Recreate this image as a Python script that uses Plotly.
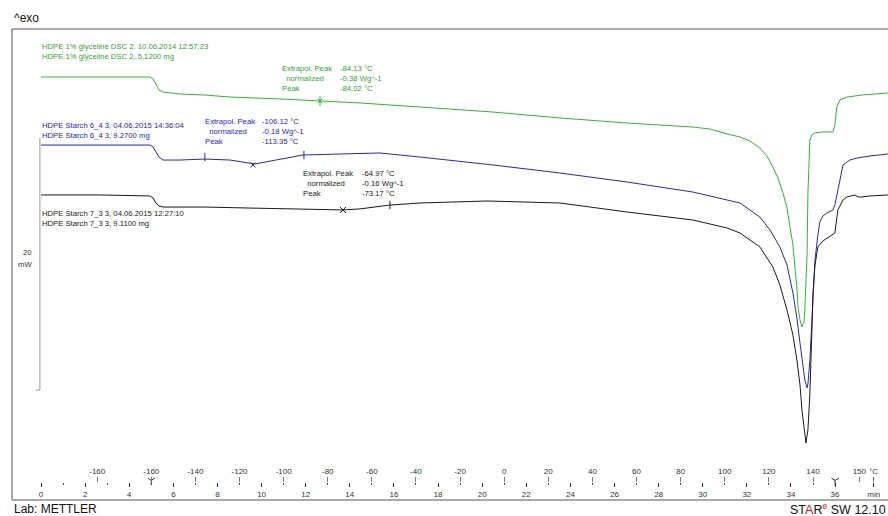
import plotly.graph_objects as go

# ---------------- data (time in min, heat flow in mW, display-offset) ----------------
time_green = [0, 2.67, 4.94, 5.08, 5.21, 5.35, 5.53, 6.30, 7.43, 8.57, 10.83, 12.65, 14.46, 17.18,
              20.49, 23.53, 26.56, 29.56, 30.33, 31.10, 31.69, 32.14, 32.59, 32.91, 33.18, 33.41,
              33.64, 33.82, 33.95, 34.09, 34.18, 34.27, 34.32, 34.41, 34.50, 34.59, 34.63, 34.68,
              34.73, 34.77, 34.81, 34.86, 34.95, 35.09, 35.45, 35.90, 35.99, 36.08, 36.22, 36.54,
              37.22, 38.40]
hf_green = [33.57, 33.57, 33.57, 33.41, 32.94, 32.54, 32.38, 32.22, 32.14, 31.98, 31.83, 31.67, 31.51,
            31.19, 30.79, 30.32, 29.92, 29.60, 29.44, 29.05, 28.81, 28.49, 27.94, 27.30, 26.43, 25.56,
            24.37, 23.17, 21.67, 20.24, 18.49, 16.90, 15.32, 14.29, 13.73, 14.13, 15.08, 17.06,
            19.44, 24.37, 26.98, 28.57, 28.97, 29.13, 29.21, 29.21, 29.76, 31.19, 31.75, 31.98,
            32.14, 32.30]

time_blue = [0, 2.67, 4.94, 5.08, 5.21, 5.35, 5.53, 6.30, 7.43, 8.57, 9.70, 10.83, 11.88, 13.55,
             15.37, 17.18, 20.49, 23.53, 26.56, 29.56, 31.10, 31.69, 32.59, 33.05, 33.50, 33.82,
             34.09, 34.27, 34.41, 34.54, 34.63, 34.73, 34.77, 34.86, 34.95, 35.00, 35.09, 35.22,
             35.31, 35.45, 35.63, 35.90, 35.99, 36.13, 36.36, 36.67, 36.99, 37.58, 38.40]
hf_blue = [28.17, 28.17, 28.17, 28.02, 27.62, 27.22, 26.98, 26.98, 27.06, 26.98, 26.67, 27.06, 27.38,
           27.46, 27.54, 27.22, 26.59, 25.95, 25.24, 24.44, 23.81, 23.57, 22.46, 21.43, 20.08, 18.65,
           16.43, 14.44, 12.46, 10.71, 9.52, 8.89, 9.21, 11.11, 14.29, 16.67, 19.05, 21.03,
           22.06, 22.54, 22.78, 23.02, 23.41, 24.60, 26.59, 26.98, 27.14, 27.30, 27.46]

time_black = [0, 2.67, 4.94, 5.08, 5.21, 5.35, 5.53, 7.43, 9.47, 11.74, 13.69, 14.46, 15.82, 17.18,
              20.22, 23.53, 26.56, 29.56, 31.10, 31.69, 32.59, 33.18, 33.50, 33.82, 34.09, 34.27,
              34.41, 34.50, 34.59, 34.68, 34.77, 34.86, 34.95, 35.00, 35.09, 35.22, 35.45, 35.63,
              35.99, 36.13, 36.36, 36.54, 36.90, 37.04, 37.22, 37.58, 38.40]
hf_black = [24.21, 24.21, 24.13, 23.97, 23.57, 23.33, 23.25, 23.25, 23.17, 23.10, 23.02, 23.10, 23.41,
            23.57, 23.73, 23.57, 22.86, 22.22, 21.59, 21.19, 20.08, 18.49, 17.06, 15.08, 13.10, 11.11,
            9.13, 7.14, 5.56, 4.52, 5.56, 8.49, 13.49, 16.43, 18.65, 20.08, 20.56, 20.79,
            21.19, 23.02, 23.81, 24.05, 24.21, 24.05, 24.05, 24.13, 24.21]

# evaluation limit markers (ticks) and peak markers (x)
green_lim_t, green_lim_v = [12.65], [31.67]
green_pk_t, green_pk_v = [12.65], [31.67]
blue_lim_t, blue_lim_v = [7.43, 11.92], [27.22, 27.38]
blue_pk_t, blue_pk_v = [9.61], [26.59]
black_lim_t, black_lim_v = [15.82], [23.41]
black_pk_t, black_pk_v = [13.69], [23.02]

# axis labels
time_ticks = [0, 2, 4, 6, 8, 10, 12, 14, 16, 18, 20, 22, 24, 26, 28, 30, 32, 34, 36, 37.75]
time_text = ["0", "2", "4", "6", "8", "10", "12", "14", "16", "18", "20", "22", "24", "26",
             "28", "30", "32", "34", "36", "min"]
temp_ticks = [2.55, 5.0, 7, 9, 11, 13, 15, 17, 19, 21, 23, 25, 27, 29, 31, 33, 35, 37.1, 37.75]
temp_text = ["-160", "-160", "-140", "-120", "-100", "-80", "-60", "-40", "-20", "0", "20", "40",
             "60", "80", "100", "120", "140", "150", "°C"]
segment_ends_t = [5.0, 36.0]

scale_bar_t = [-0.05, -0.05, -0.23]
scale_bar_v = [28.73, 8.73, 8.73]

GREEN = "#33b533"
GREEN_TXT = "#2ea82e"
BLUE = "#2626b8"
BLACK = "#1a1a1a"

fig = go.Figure()

def curve(t, v, color):
    fig.add_trace(go.Scatter(x=t, y=v, mode="lines", line=dict(color=color, width=1),
                             showlegend=False, hoverinfo="skip"))

def marks(t, v, color, symbol, size):
    fig.add_trace(go.Scatter(x=t, y=v, mode="markers",
                             marker=dict(symbol=symbol, size=size, color=color,
                                         line=dict(color=color, width=1)),
                             showlegend=False, hoverinfo="skip"))

curve(time_green, hf_green, GREEN)
curve(time_blue, hf_blue, BLUE)
curve(time_black, hf_black, BLACK)
marks(green_lim_t, green_lim_v, GREEN, "line-ns", 7)
marks(green_pk_t, green_pk_v, GREEN, "x-thin", 5)
marks(blue_lim_t, blue_lim_v, BLUE, "line-ns", 6)
marks(blue_pk_t, blue_pk_v, BLUE, "x-thin", 5)
marks(black_lim_t, black_lim_v, BLACK, "line-ns", 6)
marks(black_pk_t, black_pk_v, BLACK, "x-thin", 6)

fig.add_trace(go.Scatter(x=scale_bar_t, y=scale_bar_v, mode="lines",
                         line=dict(color="#9a9a9a", width=1), showlegend=False, hoverinfo="skip"))
fig.add_trace(go.Scatter(x=segment_ends_t, y=[1.55, 1.55], mode="markers",
                         marker=dict(symbol="y-down-open", size=6, color="#333",
                                     line=dict(color="#333", width=1)),
                         showlegend=False, hoverinfo="skip"))
# invisible trace on the top temperature axis so it renders
fig.add_trace(go.Scatter(x=[0], y=[0], xaxis="x2", mode="markers", marker=dict(opacity=0),
                         showlegend=False, hoverinfo="skip"))

FONT = "Liberation Sans, Arial"
SMALL = 7.7

def note(x, y, text, color, xanchor="left"):
    fig.add_annotation(x=x, y=y, xref="x", yref="y", text=text, showarrow=False,
                       xanchor=xanchor, yanchor="middle", align="left",
                       font=dict(family=FONT, size=SMALL, color=color))

note(-0.05, 35.56, "HDPE 1% glyceline DSC 2, 10.06.2014 12:57:23<br>HDPE 1% glyceline DSC 2, 5.1200 mg", GREEN_TXT)
note(10.83, 33.45, "Extrapol. Peak<br>&nbsp;&nbsp;normalized<br>Peak", GREEN_TXT)
note(13.46, 33.45, "-84.13 °C<br>-0.38 Wg^-1<br>-84.02 °C", GREEN_TXT)

note(-0.05, 29.33, "HDPE Starch 6_4 3, 04.06.2015 14:36:04<br>HDPE Starch 6_4 3, 9.2700 mg", BLUE)
note(7.34, 29.25, "Extrapol. Peak<br>&nbsp;&nbsp;normalized<br>Peak", BLUE)
note(9.93, 29.25, "-106.12 °C<br>-0.18 Wg^-1<br>-113.35 °C", BLUE)

note(11.79, 25.08, "Extrapol. Peak<br>&nbsp;&nbsp;normalized<br>Peak", BLACK)
note(14.46, 25.08, "-64.97 °C<br>-0.16 Wg^-1<br>-73.17 °C", BLACK)
note(-0.05, 22.34, "HDPE Starch 7_3 3, 04.06.2015 12:27:10<br>HDPE Starch 7_3 3, 9.1100 mg", BLACK)

note(-0.3, 19.68, "20", "#333", xanchor="right")
note(-0.3, 18.73, "mW", "#333", xanchor="right")

fig.add_annotation(x=0, y=1.024, xref="paper", yref="paper", text="^exo", showarrow=False,
                   xanchor="left", yanchor="middle",
                   font=dict(family="Liberation Sans, Arial", size=12, color="#111"))
fig.add_annotation(x=0, y=-0.019, xref="paper", yref="paper", text="Lab: METTLER", showarrow=False,
                   xanchor="left", yanchor="middle",
                   font=dict(family="Liberation Sans, Arial", size=12, color="#111"))
fig.add_annotation(x=1.0, y=-0.019, xref="paper", yref="paper",
                   text="ST<span style='color:#e01010'>A</span>R<sup><span style='color:#e01010'>e</span></sup> SW 12.10",
                   showarrow=False, xanchor="right", yanchor="middle",
                   font=dict(family="Liberation Sans, Arial", size=12.5, color="#111"))

fig.add_shape(type="rect", xref="paper", yref="paper", x0=0, y0=0, x1=1.01, y1=1,
              line=dict(color="#555", width=1), layer="below")

TICKFONT = dict(family=FONT, size=8, color="#333")
XR = [-1.315, 38.40]
fig.update_layout(
    width=888, height=516,
    margin=dict(l=12, r=0, t=29, b=16),
    paper_bgcolor="white", plot_bgcolor="white",
    showlegend=False,
    xaxis=dict(range=XR, anchor="free", position=0.038, side="bottom",
               tickmode="array", tickvals=time_ticks, ticktext=time_text,
               ticks="outside", ticklen=4, tickcolor="#333", tickwidth=1,
               minor=dict(tickvals=list(range(1, 36, 2)), ticks="outside", ticklen=2,
                          tickcolor="#555"),
               showgrid=False, zeroline=False, showline=False, tickfont=TICKFONT),
    xaxis2=dict(range=XR, overlaying="x", anchor="free", position=0.038, side="top",
                tickmode="array", tickvals=temp_ticks, ticktext=temp_text,
                ticks="outside", ticklen=5, tickcolor="#777", tickwidth=1,
                showgrid=False, zeroline=False, showline=False, tickfont=TICKFONT),
    yaxis=dict(range=[0, 37.38], visible=False, showgrid=False, zeroline=False),
)

fig.write_html("out.html", config={"displayModeBar": False},
               post_script="document.body.style.margin='0';document.body.style.overflow='hidden';")
